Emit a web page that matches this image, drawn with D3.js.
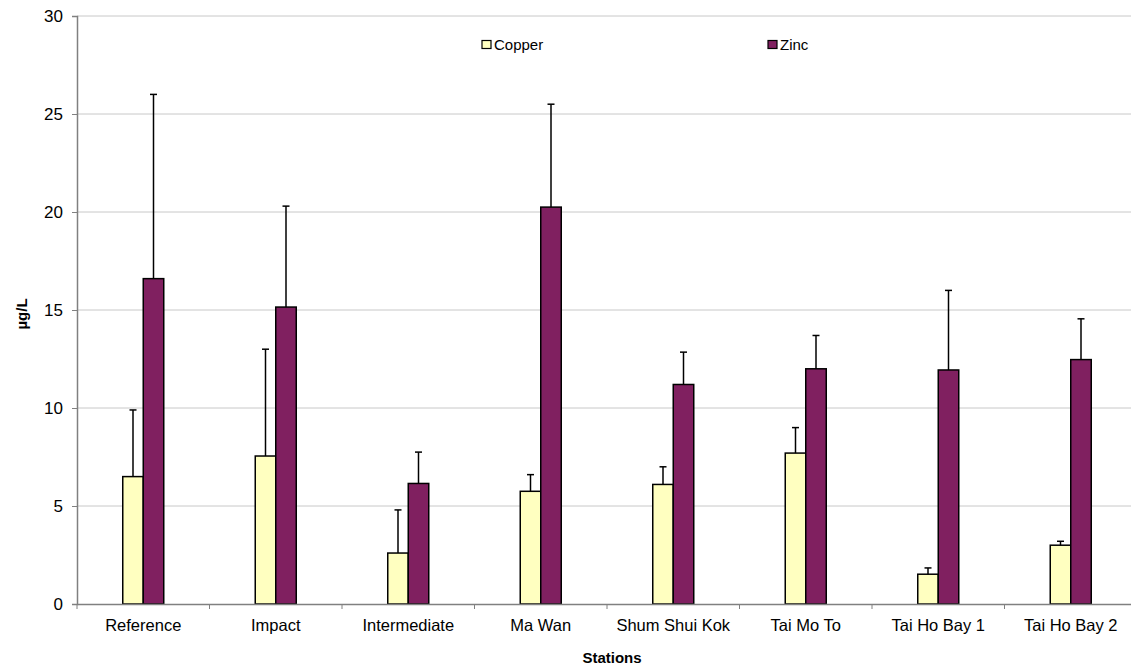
<!DOCTYPE html>
<html>
<head>
<meta charset="utf-8">
<script src="https://cdn.jsdelivr.net/npm/d3@7"></script>
<style>
body { margin: 0; background: #fff; }
text { font-family: "Liberation Sans", Arial, sans-serif; fill: #000; }
</style>
</head>
<body>
<div id="chart"></div>
<script>
var width = 1131;
var height = 669;

// data
var stations = ["Reference", "Impact", "Intermediate", "Ma Wan", "Shum Shui Kok", "Tai Mo To", "Tai Ho Bay 1", "Tai Ho Bay 2"];
var copper = [6.5, 7.55, 2.6, 5.75, 6.1, 7.7, 1.52, 3.0];
var copperErr = [9.9, 13.0, 4.8, 6.6, 7.0, 9.0, 1.84, 3.2];
var zinc = [16.6, 15.15, 6.15, 20.25, 11.2, 12.0, 11.94, 12.47];
var zincErr = [26.0, 20.3, 7.75, 25.5, 12.85, 13.7, 16.0, 14.55];
var yTicks = [0, 5, 10, 15, 20, 25, 30];

var series = [
  { name: "Copper", values: copper, err: copperErr, color: "#ffffc0" },
  { name: "Zinc", values: zinc, err: zincErr, color: "#802060" }
];

// plot area (right edge runs past the window, as in the original)
var plotLeft = 77, plotTop = 16, plotRight = 1137, plotBottom = 604;

var svg = d3.select("#chart")
  .append("svg")
  .attr("width", width)
  .attr("height", height);

var xScale = d3.scaleBand().domain(stations).range([plotLeft, plotRight]);
var yScale = d3.scaleLinear().domain([0, 30]).range([plotBottom, plotTop]);
var barW = 20.5;

// gridlines
svg.append("g")
  .selectAll("line")
  .data(yTicks.slice(1))
  .enter()
  .append("line")
  .attr("x1", plotLeft)
  .attr("x2", plotRight)
  .attr("y1", function(d) { return yScale(d); })
  .attr("y2", function(d) { return yScale(d); })
  .attr("stroke", "#c8c8c8")
  .attr("stroke-width", 1);

// y axis
var yAxis = d3.axisLeft(yScale).tickValues(yTicks).tickSize(5).tickPadding(9);
var yG = svg.append("g")
  .attr("transform", "translate(" + plotLeft + ",0)")
  .call(yAxis);
yG.select(".domain").attr("stroke", "#808080").attr("stroke-width", 1.5);
yG.selectAll(".tick line").attr("stroke", "#808080");
yG.selectAll(".tick text")
  .style("font-size", "17px")
  .style("font-family", "'Liberation Sans', Arial, sans-serif");

// bars
series.forEach(function(s, si) {
  var g = svg.append("g");
  function bx(i) {
    return xScale(stations[i]) + xScale.bandwidth() / 2 + (si - 1) * barW;
  }
  g.selectAll("rect")
    .data(s.values)
    .enter()
    .append("rect")
    .attr("x", function(d, i) { return bx(i); })
    .attr("y", function(d) { return yScale(d); })
    .attr("width", barW)
    .attr("height", function(d) { return plotBottom - yScale(d); })
    .attr("fill", s.color)
    .attr("stroke", "#000")
    .attr("stroke-width", 1.5);

  // error bars (upper only)
  g.selectAll("line.err")
    .data(s.err)
    .enter()
    .append("line")
    .attr("class", "err")
    .attr("x1", function(d, i) { return bx(i) + barW / 2; })
    .attr("x2", function(d, i) { return bx(i) + barW / 2; })
    .attr("y1", function(d, i) { return yScale(s.values[i]); })
    .attr("y2", function(d) { return yScale(d); })
    .attr("stroke", "#000")
    .attr("stroke-width", 1.5);
  g.selectAll("line.cap")
    .data(s.err)
    .enter()
    .append("line")
    .attr("class", "cap")
    .attr("x1", function(d, i) { return bx(i) + barW / 2 - 3.5; })
    .attr("x2", function(d, i) { return bx(i) + barW / 2 + 3.5; })
    .attr("y1", function(d) { return yScale(d); })
    .attr("y2", function(d) { return yScale(d); })
    .attr("stroke", "#000")
    .attr("stroke-width", 1.5);
});

// x axis
var xAxis = d3.axisBottom(xScale).tickSize(0).tickPadding(15);
var xG = svg.append("g")
  .attr("transform", "translate(0," + plotBottom + ")")
  .call(xAxis);
xG.select(".domain").attr("stroke", "#808080").attr("stroke-width", 1.5);
xG.selectAll(".tick text")
  .style("font-size", "16.5px")
  .style("font-family", "'Liberation Sans', Arial, sans-serif");
// category separators
xG.selectAll("line.sep")
  .data(stations)
  .enter()
  .append("line")
  .attr("class", "sep")
  .attr("x1", function(d) { return xScale(d); })
  .attr("x2", function(d) { return xScale(d); })
  .attr("y1", 0)
  .attr("y2", 5)
  .attr("stroke", "#808080")
  .attr("stroke-width", 1);

// axis titles
svg.append("text")
  .attr("x", 612)
  .attr("y", 663)
  .attr("text-anchor", "middle")
  .style("font-size", "15px")
  .style("font-weight", "bold")
  .text("Stations");

svg.append("text")
  .attr("transform", "translate(27,314)rotate(-90)")
  .attr("text-anchor", "middle")
  .style("font-size", "15px")
  .style("font-weight", "bold")
  .text("µg/L");

// legend
var legendX = [482, 768];
var legend = svg.append("g");
series.forEach(function(s, i) {
  legend.append("rect")
    .attr("x", legendX[i])
    .attr("y", 40.5)
    .attr("width", 9)
    .attr("height", 8)
    .attr("fill", s.color)
    .attr("stroke", "#000")
    .attr("stroke-width", 1.2);
  legend.append("text")
    .attr("x", legendX[i] + 12)
    .attr("y", 50)
    .style("font-size", "15px")
    .text(s.name);
});
</script>
</body>
</html>
